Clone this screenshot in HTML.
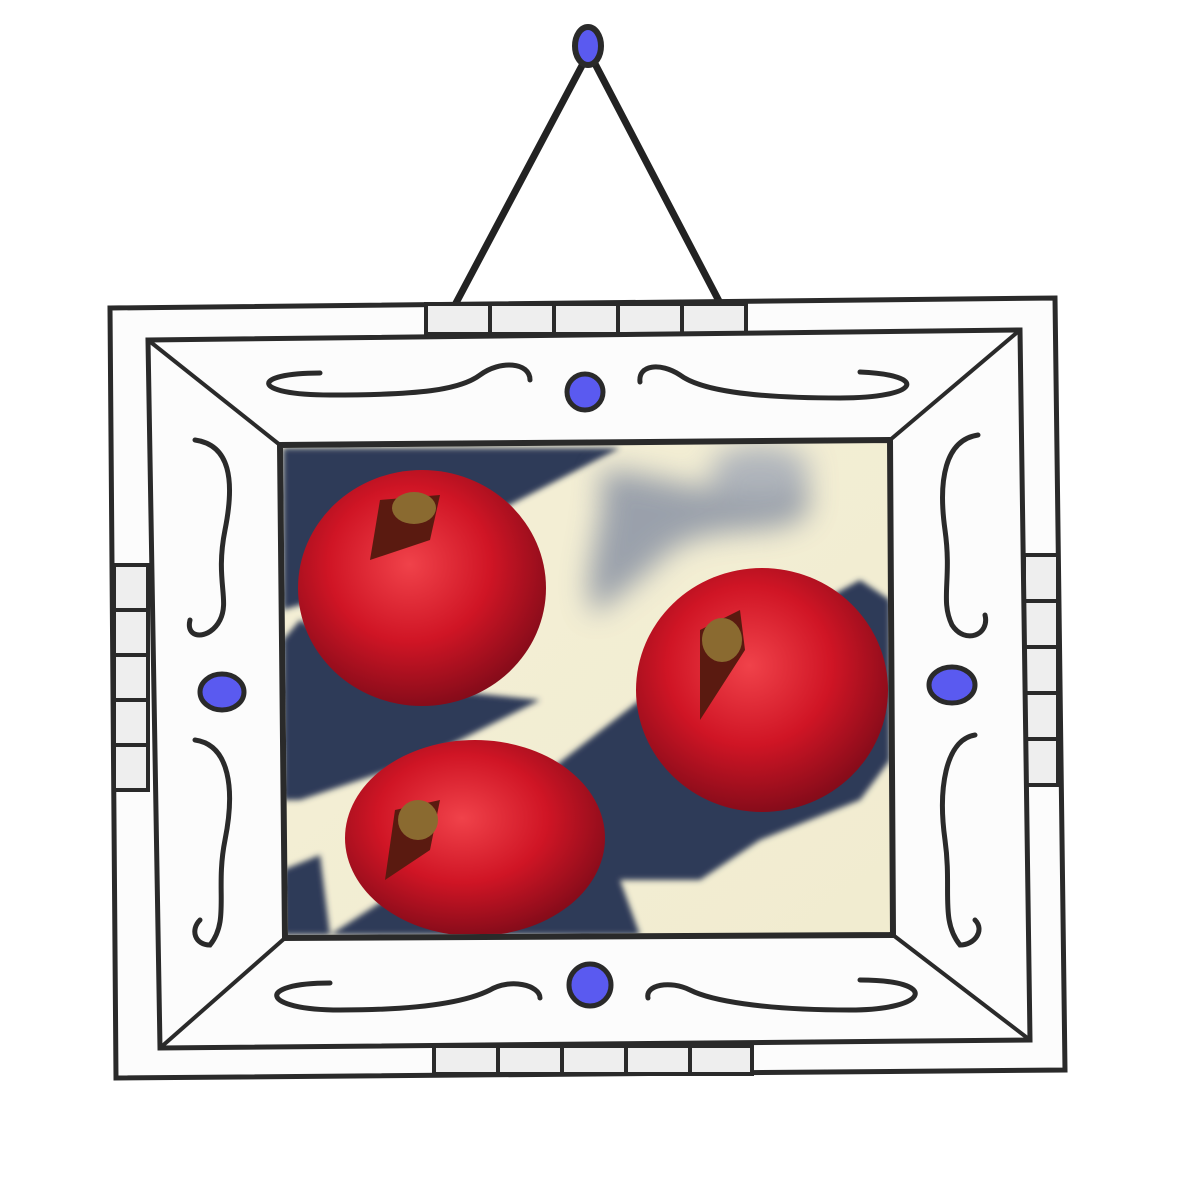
<!DOCTYPE html>
<html><head><meta charset="utf-8"><style>
html,body{margin:0;padding:0;background:#fff;width:1200px;height:1200px;overflow:hidden}
</style></head><body>
<svg width="1200" height="1200" viewBox="0 0 1200 1200" xmlns="http://www.w3.org/2000/svg">
<defs>
<radialGradient id="pg" cx="0.45" cy="0.4" r="0.65">
<stop offset="0" stop-color="#f0424a"/><stop offset="0.5" stop-color="#d01525"/><stop offset="1" stop-color="#7a0a18"/>
</radialGradient>
<linearGradient id="bg" x1="0" y1="0" x2="1" y2="1">
<stop offset="0" stop-color="#f4efd6"/><stop offset="1" stop-color="#f1ecd0"/>
</linearGradient>
<filter id="blur" x="-20%" y="-20%" width="140%" height="140%"><feGaussianBlur stdDeviation="14"/></filter>
<filter id="blur2"><feGaussianBlur stdDeviation="3"/></filter>
</defs>
<rect width="1200" height="1200" fill="#fff"/>
<g stroke="#222" stroke-width="7" stroke-linecap="round">
<line x1="586" y1="58" x2="456" y2="303"/>
<line x1="592" y1="58" x2="720" y2="303"/>
</g>
<ellipse cx="588" cy="46" rx="13" ry="19" fill="#5a5af0" stroke="#2a2a2a" stroke-width="6"/>
<polygon points="110,308 1055,298 1065,1070 116,1078" fill="#fcfcfc" stroke="#2a2a2a" stroke-width="5"/>
<g fill="#eeeeee" stroke="#2a2a2a" stroke-width="4">
<rect x="426" y="304" width="64" height="30"/><rect x="490" y="304" width="64" height="30"/><rect x="554" y="304" width="64" height="30"/><rect x="618" y="304" width="64" height="30"/><rect x="682" y="304" width="64" height="30"/>
<rect x="434" y="1046" width="64" height="28"/><rect x="498" y="1046" width="64" height="28"/><rect x="562" y="1046" width="64" height="28"/><rect x="626" y="1046" width="64" height="28"/><rect x="690" y="1046" width="62" height="28"/>
<rect x="114" y="565" width="34" height="45"/><rect x="114" y="610" width="34" height="45"/><rect x="114" y="655" width="34" height="45"/><rect x="114" y="700" width="34" height="45"/><rect x="114" y="745" width="34" height="45"/>
<rect x="1024" y="555" width="34" height="46"/><rect x="1024" y="601" width="34" height="46"/><rect x="1024" y="647" width="34" height="46"/><rect x="1024" y="693" width="34" height="46"/><rect x="1024" y="739" width="34" height="46"/>
</g>
<polygon points="148,340 1020,330 1030,1040 160,1048" fill="#fcfcfc" stroke="#2a2a2a" stroke-width="5"/>
<g stroke="#2a2a2a" stroke-width="4">
<line x1="148" y1="340" x2="280" y2="445"/><line x1="1020" y1="330" x2="890" y2="440"/>
<line x1="1030" y1="1040" x2="893" y2="935"/><line x1="160" y1="1048" x2="285" y2="938"/>
</g>
<g>
<polygon points="280,445 890,440 893,935 285,938" fill="url(#bg)" stroke="#2a2a2a" stroke-width="6"/>
<clipPath id="cp"><polygon points="283,448 887,443 890,932 288,935"/></clipPath>
<g clip-path="url(#cp)">
<g filter="url(#blur2)">
<path d="M283,448 L620,448 L500,510 L420,570 L283,610 Z" fill="#2e3a58"/>
<path d="M283,640 L300,620 L440,690 L540,700 L420,760 L300,800 L283,800 Z" fill="#2e3a58"/>
<path d="M283,870 L320,855 L330,935 L283,935 Z" fill="#2e3a58"/>
<path d="M550,770 L640,700 L860,580 L890,600 L890,760 L860,800 L760,840 L700,880 L620,880 L580,820 Z" fill="#2e3a58"/>
<path d="M330,935 L600,760 L620,880 L640,935 Z" fill="#2e3a58"/>
</g>
<g filter="url(#blur)" opacity="0.75">
<path d="M600,470 C660,470 700,500 740,480 C790,460 830,490 800,520 C760,540 700,520 660,560 C630,590 610,600 595,615 C575,580 610,520 600,470 Z" fill="#7d879e"/>
<ellipse cx="760" cy="470" rx="50" ry="25" fill="#9aa2b4"/>
</g>
<ellipse cx="422" cy="588" rx="124" ry="118" fill="url(#pg)"/>
<ellipse cx="762" cy="690" rx="126" ry="122" fill="url(#pg)"/>
<ellipse cx="475" cy="838" rx="130" ry="98" fill="url(#pg)"/>
<path d="M380,500 L440,495 L430,540 L370,560 Z" fill="#5a1a10"/>
<path d="M700,630 L740,610 L745,650 L700,720 Z" fill="#5a1a10"/>
<path d="M395,810 L440,800 L430,850 L385,880 Z" fill="#5a1a10"/>
<ellipse cx="414" cy="508" rx="22" ry="16" fill="#8a6a30"/>
<ellipse cx="722" cy="640" rx="20" ry="22" fill="#8a6a30"/>
<ellipse cx="418" cy="820" rx="20" ry="20" fill="#8a6a30"/>
</g>
</g>
<g fill="#5a5af0" stroke="#2a2a2a" stroke-width="5">
<circle cx="585" cy="392" r="18"/>
<circle cx="590" cy="985" r="21"/>
<ellipse cx="222" cy="692" rx="22" ry="18"/>
<ellipse cx="952" cy="685" rx="23" ry="18"/>
</g>
<g fill="none" stroke="#2a2a2a" stroke-width="5" stroke-linecap="round">
<path d="M320,373 C250,373 250,395 330,395 C420,395 460,390 480,375 C500,360 530,362 530,380"/>
<path d="M860,372 C930,375 920,398 840,398 C750,398 700,390 680,375 C660,362 638,365 640,382"/>
<path d="M330,983 C255,983 260,1010 340,1010 C430,1010 470,1000 490,990 C510,978 540,985 540,998"/>
<path d="M860,980 C940,980 930,1010 850,1010 C760,1010 710,1000 690,990 C670,980 645,985 648,998"/>
<path d="M195,440 C230,445 235,480 225,530 C215,580 230,600 220,620 C210,640 185,640 190,620"/>
<path d="M195,740 C230,745 235,790 225,840 C215,890 230,920 210,945 C195,945 190,930 200,920"/>
<path d="M978,435 C945,440 938,480 945,530 C952,580 940,600 952,625 C965,645 990,635 985,615"/>
<path d="M975,735 C945,740 938,790 945,840 C952,890 940,920 960,945 C975,945 985,930 975,920"/>
</g>
</svg>
</body></html>
